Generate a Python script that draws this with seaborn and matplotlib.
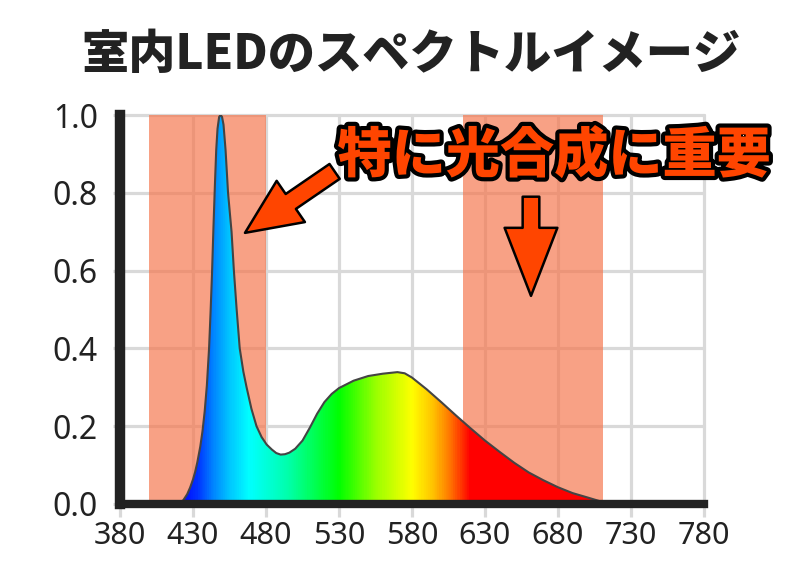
import numpy as np
import pandas as pd
import matplotlib
matplotlib.use("Agg")
import matplotlib.pyplot as plt
import matplotlib.patheffects as pe
from matplotlib.colors import LinearSegmentedColormap
from matplotlib.patches import PathPatch
import seaborn as sns

# ---- data ----
wavelength = [420, 423.4, 426, 428, 430, 431.5, 433, 435, 436.5, 438, 439.5, 441, 442, 443, 444,
              445, 445.9, 446.8, 447.9, 448.9, 449.9, 450.9, 452.3, 454, 456.4, 458, 459.9, 462,
              464.5, 466.7, 470, 473.5, 477, 480.4, 484, 487, 490, 493, 496, 500, 505, 510,
              515, 520, 525, 530, 540, 550, 560, 570, 575, 580, 590, 600, 610, 620, 630,
              640, 650, 660, 670, 680, 690, 700, 708, 714]
intensity = [0.0, 0.01, 0.025, 0.042, 0.063, 0.083, 0.108, 0.148, 0.187, 0.238, 0.305, 0.4, 0.49, 0.59, 0.71,
             0.82, 0.91, 0.965, 0.995, 1.0, 0.995, 0.975, 0.91, 0.8, 0.7, 0.6, 0.5, 0.4,
             0.34, 0.3, 0.245, 0.2, 0.172, 0.153, 0.14, 0.131, 0.127, 0.128, 0.132, 0.142, 0.163, 0.196,
             0.232, 0.262, 0.283, 0.298, 0.317, 0.329, 0.335, 0.339, 0.336, 0.325, 0.295, 0.262, 0.228,
             0.195, 0.163, 0.134, 0.106, 0.081, 0.061, 0.043, 0.028, 0.017, 0.008, 0.0]
bands = [(400, 480), (615, 711)]
xticks = [380, 430, 480, 530, 580, 630, 680, 730, 780]
yticks = [0.0, 0.2, 0.4, 0.6, 0.8, 1.0]
grad_nm = [380, 420, 432, 445, 455, 468, 495, 530, 555, 580, 595, 607, 620, 780]
grad_colors = ['#0000ff', '#0000ff', '#0030ff', '#0090ff', '#00c8ff', '#00ffff', '#00ffaa',
               '#00ff00', '#99ff00', '#ffff00', '#ffc000', '#ff7000', '#ff0000', '#ff0000']
title = "室内LEDのスペクトルイメージ"
note = "特に光合成に重要"

sns.set_theme(style="white")
plt.rcParams['font.family'] = ['Noto Sans', 'Noto Sans CJK JP', 'DejaVu Sans']

W, H = 794, 563
fig = plt.figure(figsize=(W / 100, H / 100), dpi=100)
ax = fig.add_axes([120 / W, (H - 504) / H, 584 / W, 389 / H])

df = pd.DataFrame({"nm": wavelength, "val": intensity})

# grid
ax.set_axisbelow(True)
ax.grid(True, color='#d9d9d9', linewidth=2.3)

# shaded bands
for a, b in bands:
    ax.axvspan(a, b, ymin=0, ymax=1, color='#F6754C', alpha=0.68, lw=0, zorder=1)

# gradient fill clipped to curve
poly = ax.fill_between(df["nm"], df["val"], 0, color='none', lw=0, zorder=2)
span = grad_nm[-1] - grad_nm[0]
cmap = LinearSegmentedColormap.from_list(
    "spec", [((n - grad_nm[0]) / span, c) for n, c in zip(grad_nm, grad_colors)])
xs = np.linspace(380, 780, 800).reshape(1, -1)
im = ax.imshow(xs, extent=(380, 780, 0, 1.0), aspect='auto', cmap=cmap,
               vmin=380, vmax=780, origin='lower', zorder=2, interpolation='bilinear')
pp = PathPatch(poly.get_paths()[0], transform=ax.transData, facecolor='none', edgecolor='none')
ax.add_patch(pp)
im.set_clip_path(pp)

sns.lineplot(data=df, x="nm", y="val", ax=ax, color='#444444', lw=1.5, zorder=3)

ax.set_xlim(380, 780)
ax.set_ylim(0, 1.0)
ax.set_xticks(xticks)
ax.set_yticks(yticks)
ax.set_xticklabels([str(t) for t in xticks])
ax.set_yticklabels([f"{t:.1f}" for t in yticks])
ax.set_xlabel("")
ax.set_ylabel("")
for t in ax.get_ygridlines() + ax.get_xgridlines():
    t.set_clip_on(False)

ax.tick_params(axis='x', length=9, width=2.3, color='#d9d9d9', labelsize=22,
               labelcolor='#222222', pad=3, bottom=True)
ax.tick_params(axis='y', length=5, width=2.3, color='#d9d9d9', labelsize=23,
               labelcolor='#222222', pad=11, left=True)

for s in ['top', 'right']:
    ax.spines[s].set_visible(False)
ax.spines['left'].set_linewidth(7.5)
ax.spines['left'].set_color('#222222')
ax.spines['bottom'].set_linewidth(6)
ax.spines['bottom'].set_color('#222222')
ax.spines['left'].set_zorder(5)
ax.spines['bottom'].set_zorder(5)

# arrows
orange = '#FF4500'
ax.annotate("", xy=(465.6, 0.697), xytext=(527, 0.855),
            arrowprops=dict(arrowstyle="simple,head_length=4.0,head_width=3.6,tail_width=1.3",
                            fc=orange, ec='black', lw=1.8, mutation_scale=10,
                            shrinkA=0, shrinkB=0), zorder=6, annotation_clip=False)
ax.annotate("", xy=(661.5, 0.535), xytext=(661.5, 0.79),
            arrowprops=dict(arrowstyle="simple,head_length=4.9,head_width=3.8,tail_width=1.2",
                            fc=orange, ec='black', lw=1.8, mutation_scale=10,
                            shrinkA=0, shrinkB=0), zorder=6, annotation_clip=False)

fig.text(554 / W, 1 - 156 / H, note, ha='center', va='center', fontsize=39,
         fontweight='black', color=orange, family=['Noto Sans CJK JP', 'DejaVu Sans'],
         path_effects=[pe.Stroke(linewidth=6, foreground='black'), pe.Normal()], zorder=10)

fig.text(411 / W, 1 - 55 / H, title, ha='center', va='center', fontsize=34,
         fontweight='black', color='#222222', family=['Noto Sans CJK JP', 'DejaVu Sans'])

fig.savefig("out.png", dpi=100)
